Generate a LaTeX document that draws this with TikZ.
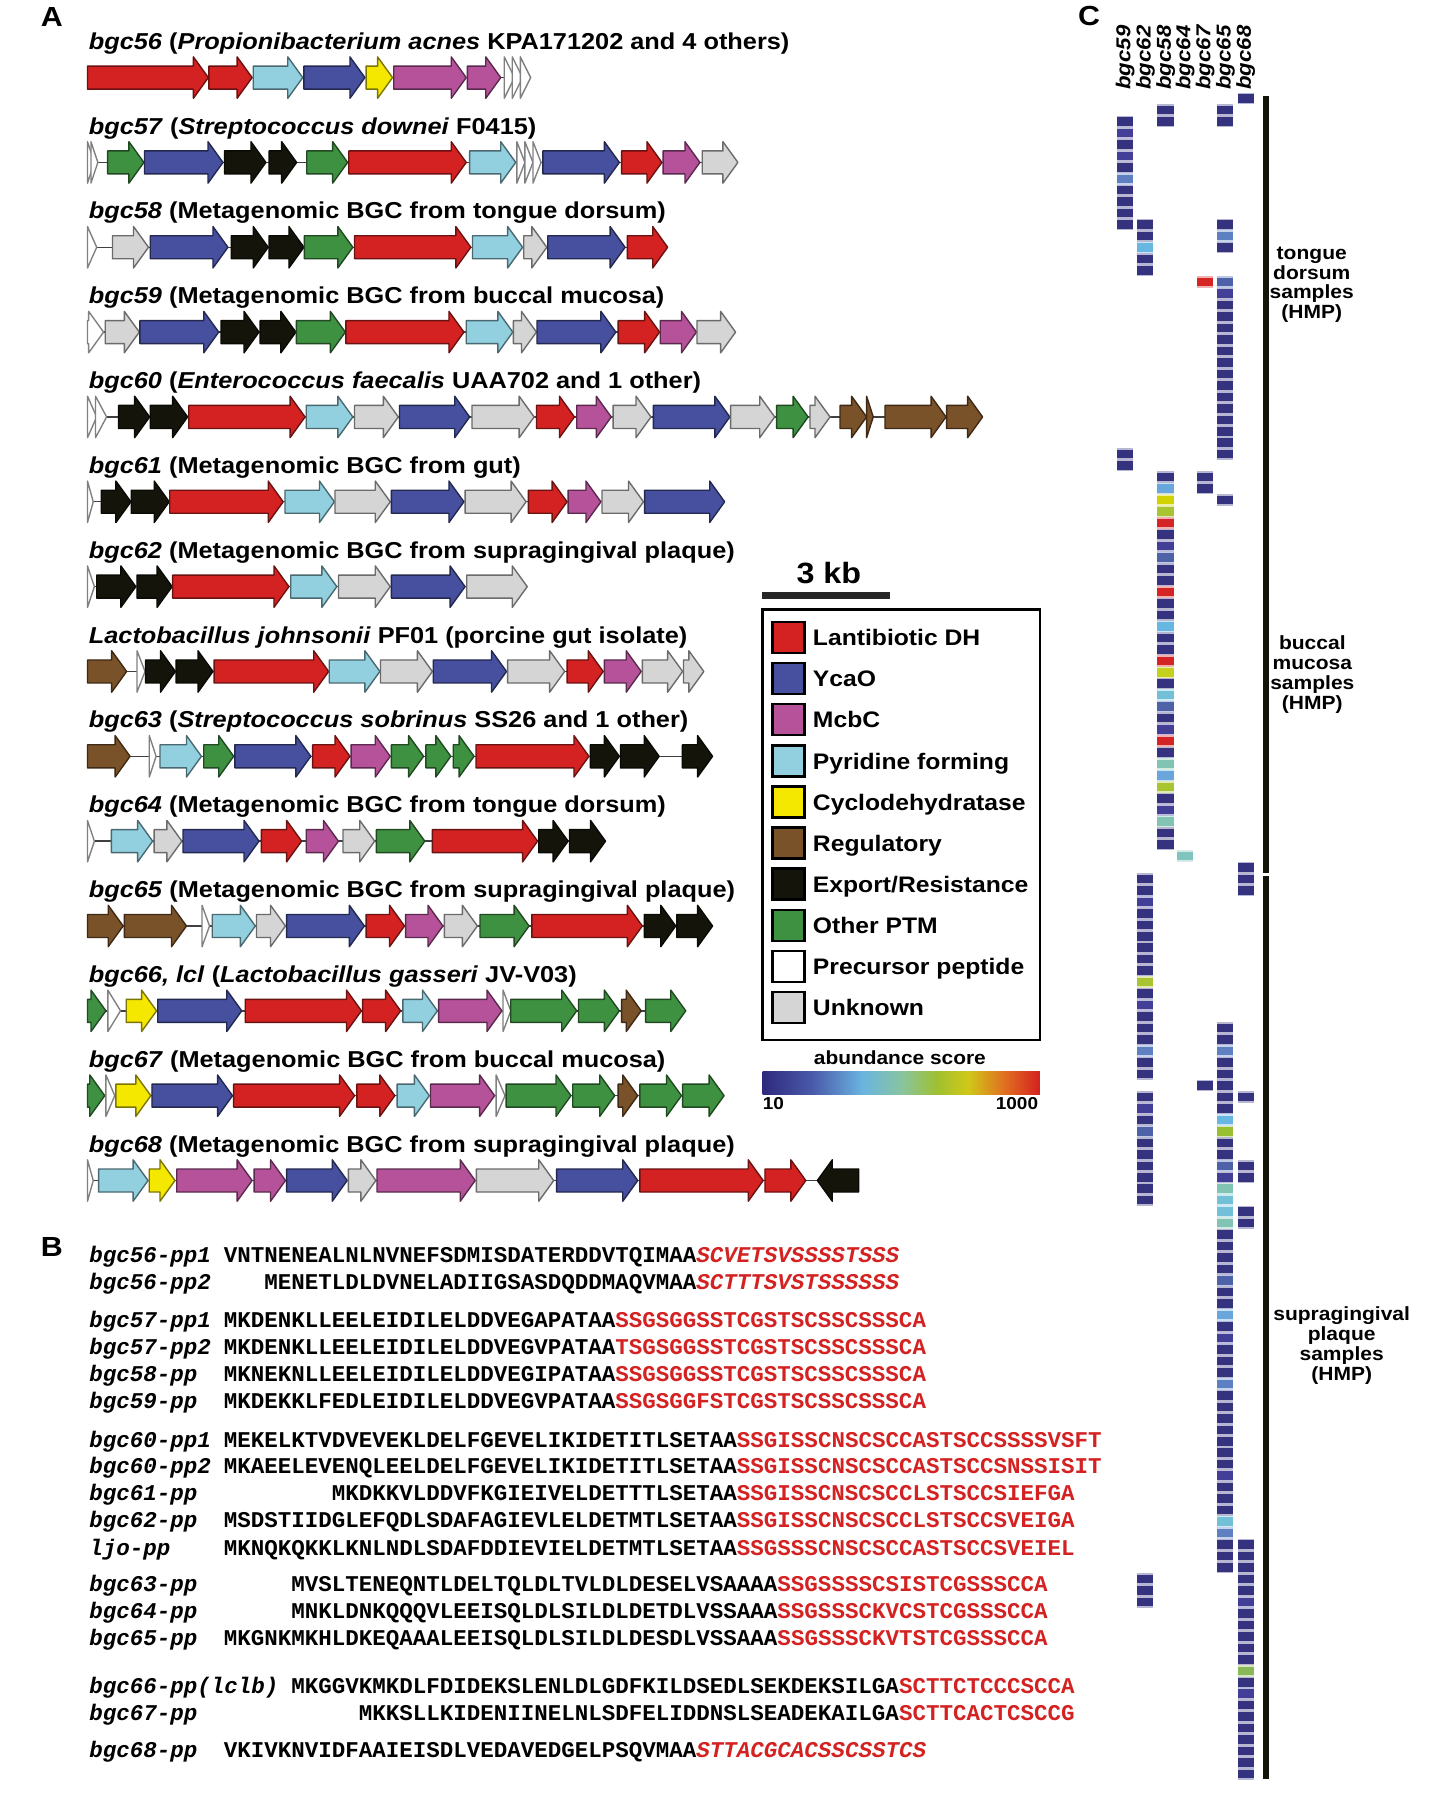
\documentclass[tikz,border=0pt]{standalone}
\usepackage{fontspec}
\setmainfont[FakeStretch=1.1]{Liberation Sans}
\newfontfamily\seqfont{Liberation Mono}
\definecolor{cRed}{HTML}{D42222}
\definecolor{cBlue}{HTML}{46509E}
\definecolor{cPink}{HTML}{B5529A}
\definecolor{cLB}{HTML}{92D0E0}
\definecolor{cYel}{HTML}{F5E800}
\definecolor{cBrn}{HTML}{7A5229}
\definecolor{cBlk}{HTML}{14140A}
\definecolor{cGrn}{HTML}{3F9142}
\definecolor{cGry}{HTML}{D5D5D5}
\definecolor{cWht}{HTML}{FFFFFF}
\definecolor{hN}{HTML}{35327F}
\definecolor{hB1}{HTML}{433F96}
\definecolor{hB2}{HTML}{4E62AA}
\definecolor{hB3}{HTML}{5C80C2}
\definecolor{hLB}{HTML}{68B6E2}
\definecolor{hLB2}{HTML}{68A6DC}
\definecolor{hTB}{HTML}{72C0D8}
\definecolor{hTG}{HTML}{82C4B4}
\definecolor{hYG}{HTML}{A8C430}
\definecolor{hYG2}{HTML}{C4D21E}
\definecolor{hY}{HTML}{D2D200}
\definecolor{hR}{HTML}{D42424}
\definecolor{hG}{HTML}{98C030}
\definecolor{hG2}{HTML}{88B858}
\definecolor{hTeal}{HTML}{80C4C0}
\definecolor{sb0}{HTML}{2E2A7E}
\definecolor{sb1}{HTML}{4A5AAA}
\definecolor{sb2}{HTML}{6AB4E0}
\definecolor{sb3}{HTML}{88C4A0}
\definecolor{sb4}{HTML}{A0C030}
\definecolor{sb5}{HTML}{D0C818}
\definecolor{sb6}{HTML}{E07020}
\definecolor{sb7}{HTML}{D42020}
\pgfdeclarehorizontalshading{abund}{100bp}{color(0bp)=(sb0); color(25bp)=(sb0); color(34bp)=(sb1); color(43bp)=(sb2); color(50bp)=(sb3); color(56.5bp)=(sb4); color(62bp)=(sb5); color(68.5bp)=(sb6); color(75bp)=(sb7); color(100bp)=(sb7)}
% gene arrow: x1, x2, y, colour
\newcommand\gn[4]{%
  \pgfmathsetmacro\gnL{#2-#1}%
  \ifdim\gnL pt>13.5pt
    \filldraw[fill=#4,draw=#4!50!black,line width=1.2pt,line join=round] (#1,#3-10) -- ({#2-13},#3-10) -- ({#2-13},#3-18) -- (#2,#3) -- ({#2-13},#3+18) -- ({#2-13},#3+10) -- (#1,#3+10) -- cycle;
  \else
    \filldraw[fill=#4,draw=#4!50!black,line width=1.2pt,line join=round] (#1,#3-18) -- (#2,#3) -- (#1,#3+18) -- cycle;
  \fi}
\newcommand\gene[3]{\gn{#1}{#2}{\ry}{#3}}
\newcommand\generev[3]{\filldraw[fill=#3,draw=#3!50!black,line width=1.2pt,line join=round] (#1,\ry) -- ({#1+13},\ry-18) -- ({#1+13},\ry-10) -- (#2,\ry-10) -- (#2,\ry+10) -- ({#1+13},\ry+10) -- ({#1+13},\ry+18) -- cycle;}
% heatmap cell: x, row, colour
\newcommand\hc[3]{%
  \pgfmathsetmacro\hy{85.5+9.97*#2}%
  \fill[#3!35!white] ({#1-7},\hy-5) rectangle ({#1+7},\hy+5);
  \fill[#3] ({#1-7},\hy-3.7) rectangle ({#1+7},\hy+3.7);}
% runs of navy cells: x, list of from/to
\newcommand\hruns[2]{\foreach \ha/\hb in {#2} {\foreach \r in {\ha,...,\hb} {\hc{#1}{\r}{hN}}}}
\newcommand\seqrow[5]{% label, y(center), offset, black, red
  \node[anchor=base west,inner sep=0pt,font=\seqfont\fontsize{19.55}{20}\selectfont\bfseries\itshape] at (77.5,#2+5.5) {#1};
  \node[anchor=base west,inner sep=0pt,font=\seqfont\fontsize{19.55}{20}\selectfont\bfseries] at ({194.2+11.73*#3},#2+5.5) {#4\textcolor{cRed}{#5}};}
\begin{document}
\begin{tikzpicture}[x=1pt,y=-1pt,
  baseln/.style={line width=1.2pt,black!75},
  ttl/.style={anchor=base west,inner sep=0pt,font=\fontsize{20}{24}\selectfont\bfseries},
  leg/.style={anchor=base west,inner sep=0pt,font=\fontsize{19.5}{22}\selectfont\bfseries},
  panel/.style={inner sep=0pt,font=\fontsize{24}{26}\selectfont\bfseries},
  grp/.style={align=center,inner sep=0pt,font=\fontsize{16.6}{17.2}\selectfont\bfseries},
  coll/.style={anchor=west,rotate=90,inner sep=0pt,font=\fontsize{17.5}{18}\selectfont\bfseries\itshape}]
\useasboundingbox[fill=white] (0,0) rectangle (1250,1568);

% ---------------- panel labels
\node[panel] (pA) at (45,14.5) {A};
\node[panel] (pB) at (45,1083) {B};
\node[panel] (pC) at (946,14) {C};

% ---------------- titles
\node[ttl] (t0) at (77,42.8) {\textit{bgc56} (\textit{Propionibacterium acnes} KPA171202 and 4 others)};
\node[ttl] (t1) at (77,116.5) {\textit{bgc57} (\textit{Streptococcus downei} F0415)};
\node[ttl] (t2) at (77,190.2) {\textit{bgc58} (Metagenomic BGC from tongue dorsum)};
\node[ttl] (t3) at (77,263.9) {\textit{bgc59} (Metagenomic BGC from buccal mucosa)};
\node[ttl] (t4) at (77,337.6) {\textit{bgc60} (\textit{Enterococcus faecalis} UAA702 and 1 other)};
\node[ttl] (t5) at (77,411.3) {\textit{bgc61} (Metagenomic BGC from gut)};
\node[ttl] (t6) at (77,485.0) {\textit{bgc62} (Metagenomic BGC from supragingival plaque)};
\node[ttl] (t7) at (77,558.7) {\textit{Lactobacillus johnsonii} PF01 (porcine gut isolate)};
\node[ttl] (t8) at (77,632.4) {\textit{bgc63} (\textit{Streptococcus sobrinus} SS26 and 1 other)};
\node[ttl] (t9) at (77,706.1) {\textit{bgc64} (Metagenomic BGC from tongue dorsum)};
\node[ttl] (t10) at (77,779.8) {\textit{bgc65} (Metagenomic BGC from supragingival plaque)};
\node[ttl] (t11) at (77,853.5) {\textit{bgc66, lcl} (\textit{Lactobacillus gasseri} JV-V03)};
\node[ttl] (t12) at (77,927.2) {\textit{bgc67} (Metagenomic BGC from buccal mucosa)};
\node[ttl] (t13) at (77,1000.9) {\textit{bgc68} (Metagenomic BGC from supragingival plaque)};

% ---------------- gene rows
\def\ry{67.4}
\draw[baseln] (76,\ry) -- (461,\ry);
\gene{76}{181}{cRed}\gene{181.5}{219}{cRed}\gene{220}{263}{cLB}\gene{264}{317}{cBlue}\gene{318}{341}{cYel}\gene{342}{405}{cPink}\gene{406}{435}{cPink}\gene{438}{447}{cWht}\gene{445}{454}{cWht}\gene{452}{461}{cWht}

\def\ry{141.1}
\draw[baseln] (76,\ry) -- (641,\ry);
\gene{76}{82}{cWht}\gene{79}{85}{cWht}\gene{93.5}{125}{cGrn}\gene{125.5}{193.7}{cBlue}\gene{195}{231}{cBlk}\gene{233.7}{257.7}{cBlk}\gene{266.5}{302}{cGrn}\gene{303}{405}{cRed}\gene{408}{448}{cLB}\gene{449}{456}{cWht}\gene{456}{463}{cWht}\gene{463}{470}{cWht}\gene{471.6}{538}{cBlue}\gene{540}{575}{cRed}\gene{576}{608}{cPink}\gene{610}{641}{cGry}

\def\ry{214.8}
\draw[baseln] (76,\ry) -- (580,\ry);
\gene{76}{84}{cWht}\gene{97.7}{129}{cGry}\gene{130.5}{198}{cBlue}\gene{201}{233}{cBlk}\gene{233.7}{264}{cBlk}\gene{264.4}{306.5}{cGrn}\gene{308}{409}{cRed}\gene{410.5}{454}{cLB}\gene{455}{475}{cGry}\gene{475.8}{543}{cBlue}\gene{545}{580}{cRed}

\def\ry{288.5}
\draw[baseln] (76,\ry) -- (639,\ry);
\gene{76}{90}{cWht}\gene{91.4}{121}{cGry}\gene{121.5}{190}{cBlue}\gene{192}{225}{cBlk}\gene{226}{257}{cBlk}\gene{257.5}{300}{cGrn}\gene{300.5}{403}{cRed}\gene{405}{445.5}{cLB}\gene{446}{466}{cGry}\gene{466.5}{535}{cBlue}\gene{537}{573}{cRed}\gene{573.5}{605}{cPink}\gene{605.5}{639}{cGry}

\def\ry{362.2}
\draw[baseln] (76,\ry) -- (853.6,\ry);
\gene{76}{84}{cWht}\gene{83}{92.6}{cWht}\gene{103}{130}{cBlk}\gene{130.5}{163}{cBlk}\gene{164}{265}{cRed}\gene{266}{306.5}{cLB}\gene{308}{346}{cGry}\gene{347}{408}{cBlue}\gene{410}{464}{cGry}\gene{466}{499}{cRed}\gene{501}{531}{cPink}\gene{532.6}{565.5}{cGry}\gene{567.6}{634}{cBlue}\gene{634.7}{673}{cGry}\gene{674.7}{702}{cGrn}\gene{703.6}{721}{cGry}\gene{729.7}{752.8}{cBrn}\gene{752.8}{758.6}{cBrn}\gene{768.8}{821.8}{cBrn}\gene{822.3}{853.6}{cBrn}

\def\ry{435.9}
\draw[baseln] (76,\ry) -- (629.5,\ry);
\gene{76}{81}{cWht}\gene{88}{113.7}{cBlk}\gene{114}{147}{cBlk}\gene{147.5}{246}{cRed}\gene{247.6}{290.5}{cLB}\gene{291}{339}{cGry}\gene{340}{403}{cBlue}\gene{404}{457}{cGry}\gene{459}{492.6}{cRed}\gene{493.5}{522}{cPink}\gene{523}{559}{cGry}\gene{560}{629.5}{cBlue}

\def\ry{509.6}
\draw[baseln] (76,\ry) -- (458,\ry);
\gene{76}{82}{cWht}\gene{84}{118}{cBlk}\gene{119}{149.5}{cBlk}\gene{150}{251}{cRed}\gene{252.6}{292.6}{cLB}\gene{294}{339}{cGry}\gene{340}{404}{cBlue}\gene{405.5}{458}{cGry}

\def\ry{583.3}
\draw[baseln] (76,\ry) -- (611.4,\ry);
\gene{76}{110}{cBrn}\gene{119}{126}{cWht}\gene{126.5}{152.4}{cBlk}\gene{153}{185}{cBlk}\gene{186}{285.5}{cRed}\gene{286}{330}{cLB}\gene{330.5}{375.6}{cGry}\gene{376.4}{440}{cBlue}\gene{441}{490.5}{cGry}\gene{492.6}{524}{cRed}\gene{525}{557}{cPink}\gene{558}{593}{cGry}\gene{593.7}{611.4}{cGry}

\def\ry{657}
\draw[baseln] (76,\ry) -- (619,\ry);
\gene{76}{113}{cBrn}\gene{129.7}{135.6}{cWht}\gene{139}{175}{cLB}\gene{177}{203}{cGrn}\gene{204}{270}{cBlue}\gene{271.6}{304}{cRed}\gene{305}{339}{cPink}\gene{340}{368}{cGrn}\gene{370}{391.6}{cGrn}\gene{393.7}{411.8}{cGrn}\gene{413.5}{511.6}{cRed}\gene{512.8}{538}{cBlk}\gene{539}{572.6}{cBlk}\gene{592.8}{619}{cBlk}

\def\ry{730.7}
\draw[baseln] (76,\ry) -- (526,\ry);
\gene{76}{82}{cWht}\gene{96.8}{132.6}{cLB}\gene{133.9}{158}{cGry}\gene{159}{225}{cBlue}\gene{227}{262}{cRed}\gene{266}{294}{cPink}\gene{298}{325.5}{cGry}\gene{327}{369}{cGrn}\gene{375.6}{467}{cRed}\gene{468}{493.5}{cBlk}\gene{494.7}{526}{cBlk}

\def\ry{804.4}
\draw[baseln] (76,\ry) -- (619,\ry);
\gene{76}{107}{cBrn}\gene{108}{162}{cBrn}\gene{175.5}{182}{cWht}\gene{184.4}{221.8}{cLB}\gene{222.8}{248}{cGry}\gene{249}{316.5}{cBlue}\gene{318}{351.4}{cRed}\gene{352.4}{384.8}{cPink}\gene{386}{414.7}{cGry}\gene{417}{459.6}{cGrn}\gene{462}{558}{cRed}\gene{559.8}{587}{cBlk}\gene{588}{619}{cBlk}

\def\ry{878.1}
\draw[baseln] (76,\ry) -- (595.7,\ry);
\gene{76}{92}{cGrn}\gene{93.7}{104.7}{cWht}\gene{109.7}{136}{cYel}\gene{137}{210}{cBlue}\gene{213}{314}{cRed}\gene{315}{348}{cRed}\gene{350}{380}{cLB}\gene{381}{436}{cPink}\gene{437}{443.7}{cWht}\gene{443.7}{501}{cGrn}\gene{502.5}{538}{cGrn}\gene{540}{557}{cBrn}\gene{560.8}{595.7}{cGrn}

\def\ry{951.8}
\draw[baseln] (76,\ry) -- (629,\ry);
\gene{76}{91}{cGrn}\gene{92}{99.7}{cWht}\gene{100.7}{131}{cYel}\gene{132}{202}{cBlue}\gene{203}{308}{cRed}\gene{310}{343}{cRed}\gene{345}{373}{cLB}\gene{374}{429.7}{cPink}\gene{431}{438.7}{cWht}\gene{439.7}{496}{cGrn}\gene{497.5}{534}{cGrn}\gene{537}{554}{cBrn}\gene{555.8}{592}{cGrn}\gene{593}{629}{cGrn}

\def\ry{1025.5}
\draw[baseln] (76,\ry) -- (746,\ry);
\gene{76}{81}{cWht}\gene{85.7}{128.6}{cLB}\gene{129.6}{152}{cYel}\gene{153.5}{219}{cPink}\gene{220.8}{248}{cPink}\gene{249}{301.6}{cBlue}\gene{302.6}{326.5}{cGry}\gene{327.5}{412.8}{cPink}\gene{413.8}{481}{cGry}\gene{483.5}{554}{cBlue}\gene{555.8}{663}{cRed}\gene{664.5}{700}{cRed}\generev{710}{746}{cBlk}

% ---------------- scale bar and legend
\node[inner sep=0pt,font=\fontsize{25.5}{28}\selectfont\bfseries] (kb) at (720,497.5) {3 kb};
\fill[black!85] (662,514) rectangle (773.5,520.5);
\draw[line width=2.2pt] (662.5,529.5) rectangle (903.4,903.6);
\foreach \c/\t [count=\i from 0] in {cRed/Lantibiotic DH,cBlue/YcaO,cPink/McbC,cLB/Pyridine forming,cYel/Cyclodehydratase,cBrn/Regulatory,cBlk/Export{/}Resistance,cGrn/Other PTM,cWht/Precursor peptide,cGry/Unknown}{
  \pgfmathsetmacro\ly{553.7+35.73*\i}
  \filldraw[fill=\c,draw=black,line width=2.2pt] (671,\ly-13.5) rectangle (699,\ly+13.5);
  \node[leg] (lg\i) at (706,\ly+7.2) {\t};
}
\node[inner sep=0pt,font=\fontsize{16.5}{18}\selectfont\bfseries] (absc) at (781.7,919) {abundance score};
\shade[shading=abund] (662.5,931.2) rectangle (903.4,950.5);
\node[anchor=base west,inner sep=0pt,font=\fontsize{15}{16}\selectfont\bfseries] (s10) at (662.5,964) {10};
\node[anchor=base east,inner sep=0pt,font=\fontsize{15}{16}\selectfont\bfseries] (s1000) at (902,964) {1000};

% ---------------- panel B sequences
\seqrow{bgc56-pp1}{1091}{0}{VNTNENEALNLNVNEFSDMISDATERDDVTQIMAA}{\textit{SCVETSVSSSSTSSS}}
\seqrow{bgc56-pp2}{1114.8}{3}{MENETLDLDVNELADIIGSASDQDDMAQVMAA}{\textit{SCTTTSVSTSSSSSS}}
\seqrow{bgc57-pp1}{1148}{0}{MKDENKLLEELEIDILELDDVEGAPATAA}{SSGSGGSSTCGSTSCSSCSSSCA}
\seqrow{bgc57-pp2}{1171.3}{0}{MKDENKLLEELEIDILELDDVEGVPATAA}{TSGSGGSSTCGSTSCSSCSSSCA}
\seqrow{bgc58-pp}{1195}{0}{MKNEKNLLEELEIDILELDDVEGIPATAA}{SSGSGGSSTCGSTSCSSCSSSCA}
\seqrow{bgc59-pp}{1218.2}{0}{MKDEKKLFEDLEIDILELDDVEGVPATAA}{SSGSGGFSTCGSTSCSSCSSSCA}
\seqrow{bgc60-pp1}{1251.8}{0}{MEKELKTVDVEVEKLDELFGEVELIKIDETITLSETAA}{SSGISSCNSCSCCASTSCCSSSSVSFT}
\seqrow{bgc60-pp2}{1274.7}{0}{MKAEELEVENQLEELDELFGEVELIKIDETITLSETAA}{SSGISSCNSCSCCASTSCCSNSSISIT}
\seqrow{bgc61-pp}{1298.2}{8}{MKDKKVLDDVFKGIEIVELDETTTLSETAA}{SSGISSCNSCSCCLSTSCCSIEFGA}
\seqrow{bgc62-pp}{1321.5}{0}{MSDSTIIDGLEFQDLSDAFAGIEVLELDETMTLSETAA}{SSGISSCNSCSCCLSTSCCSVEIGA}
\seqrow{ljo-pp}{1345.6}{0}{MKNQKQKKLKNLNDLSDAFDDIEVIELDETMTLSETAA}{SSGSSSCNSCSCCASTSCCSVEIEL}
\seqrow{bgc63-pp}{1377.4}{5}{MVSLTENEQNTLDELTQLDLTVLDLDESELVSAAAA}{SSGSSSSCSISTCGSSSCCA}
\seqrow{bgc64-pp}{1400.6}{5}{MNKLDNKQQQVLEEISQLDLSILDLDETDLVSSAAA}{SSGSSSCKVCSTCGSSSCCA}
\seqrow{bgc65-pp}{1423.8}{0}{MKGNKMKHLDKEQAAALEEISQLDLSILDLDESDLVSSAAA}{SSGSSSCKVTSTCGSSSCCA}
\seqrow{bgc66-pp(lclb)}{1465.8}{5}{MKGGVKMKDLFDIDEKSLENLDLGDFKILDSEDLSEKDEKSILGA}{SCTTCTCCCSCCA}
\seqrow{bgc67-pp}{1489}{10}{MKKSLLKIDENIINELNLSDFELIDDNSLSEADEKAILGA}{SCTTCACTCSCCG}
\seqrow{bgc68-pp}{1521.6}{0}{VKIVKNVIDFAAIEISDLVEDAVEDGELPSQVMAA}{\textit{STTACGCACSSCSSTCS}}

% ---------------- panel C heatmap
\foreach \x/\t [count=\i] in {977.5/bgc59,995/bgc62,1012.5/bgc58,1029.5/bgc64,1047/bgc67,1064.5/bgc65,1082/bgc68}
  \node[coll] (cl\i) at (\x,78) {\t};
% col1 bgc59
\hruns{977.5}{2/11,31/32}
\foreach \r/\c in {3/hB1,5/hB1,7/hB3} {\hc{977.5}{\r}{\c}}
% col2 bgc62
\hruns{995}{11/15,68/85,87/96,129/131}
\foreach \r/\c in {13/hLB,77/hYG,83/hB3,90/hB2,70/hB1,79/hB1,88/hB1} {\hc{995}{\r}{\c}}
% col3 bgc58
\hruns{1012.5}{1/2,33/65}
\foreach \r/\c in {34/hLB2,35/hY,36/hYG,37/hR,39/hB1,40/hB2,43/hR,46/hLB,49/hR,50/hYG2,52/hTB,53/hB2,55/hB1,56/hR,58/hTG,59/hLB2,60/hYG,62/hB1,63/hTG} {\hc{1012.5}{\r}{\c}}
% col4 bgc64
\hc{1029.5}{66}{hTeal}
% col5 bgc67
\hruns{1047}{33/34,86/86}
\hc{1047}{16}{hR}
% col6 bgc65
\hruns{1064.5}{1/2,11/13,16/31,35/35,81/128}
\foreach \r/\c in {12/hB3,16/hB2,17/hB1,83/hB3,89/hLB,90/hG,93/hB2,94/hB1,95/hTG,96/hTB,97/hTB,98/hTG,103/hB2,106/hLB2,108/hB1,112/hB3,120/hB1,124/hTB,125/hB3} {\hc{1064.5}{\r}{\c}}
% col7 bgc68
\hruns{1082}{0/0,67/69,87/87,93/94,97/98,126/146}
\foreach \r/\c in {131/hB1,137/hG2,139/hB1} {\hc{1082}{\r}{\c}}

% group bar and labels
\fill[cBlk] (1097,83) rectangle (1102.5,758);
\fill[cBlk] (1097,761) rectangle (1102.5,1545.5);
\node[grp] (g1) at (1139.5,247.3) {tongue\\dorsum\\samples\\(HMP)};
\node[grp] (g2) at (1140,586) {buccal\\mucosa\\samples\\(HMP)};
\node[grp] (g3) at (1165.5,1169) {supragingival\\plaque\\samples\\(HMP)};
\end{tikzpicture}
\end{document}
